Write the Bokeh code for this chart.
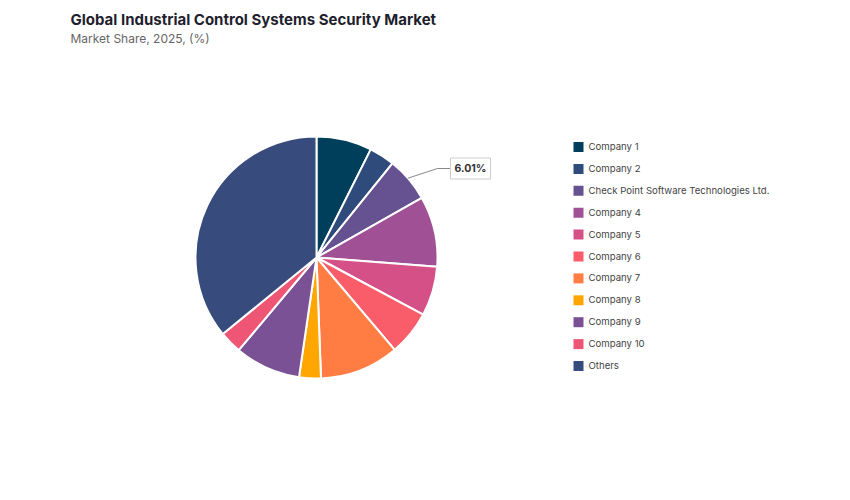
import numpy as np
from bokeh.plotting import figure
from bokeh.models import Range1d, ColumnDataSource, Label
from bokeh.core.properties import value
from bokeh.embed import file_html
from bokeh.resources import INLINE

title = "Global Industrial Control Systems Security Market"
subtitle = "Market Share, 2025, (%)"
companies = ["Company 1", "Company 2", "Check Point Software Technologies Ltd.", "Company 4",
             "Company 5", "Company 6", "Company 7", "Company 8", "Company 9", "Company 10", "Others"]
shares = [7.4, 3.4, 6.01, 9.4, 6.6, 6.0, 10.6, 2.9, 8.8, 3.0, 35.89]
colors = ["#003f5c", "#2f4b7c", "#665191", "#a05195", "#d45087", "#f95d6a",
          "#ff7c43", "#ffa600", "#7a5195", "#ef5675", "#374c7d"]
highlight = 2  # labelled slice

W, H = 850, 500
FONT = "Inter"

p = figure(width=W, height=H, output_backend="svg", toolbar_location=None,
           x_range=Range1d(0, W), y_range=Range1d(0, H), min_border=0)
p.axis.visible = False
p.grid.visible = False
p.outline_line_color = None
p.background_fill_color = "white"

cx, cy, r = 316, H - 257, 121
vals = np.array(shares, dtype=float)
frac = vals / vals.sum()
cum_end = np.cumsum(frac)
cum_start = cum_end - frac
start = np.pi / 2 - cum_start * 2 * np.pi
end = np.pi / 2 - cum_end * 2 * np.pi

src = ColumnDataSource(dict(start=start, end=end, color=colors, name=companies))
p.wedge(x=cx, y=cy, radius=r, start_angle="start", end_angle="end", direction="clock",
        fill_color="color", line_color="white", line_width=2, source=src)

# callout for highlighted slice
mid = (start[highlight] + end[highlight]) / 2
ex, ey = cx + r * np.cos(mid), cy + r * np.sin(mid)
kx, ky = 437, H - 168
p.line([ex - 1, kx, 452], [ey + 1, ky, ky], line_color="#888888", line_width=1)
lbl = Label(x=470, y=ky, text=f"{shares[highlight]:.2f}%", text_align="center",
            text_baseline="middle", text_font=FONT, text_font_size="10.5px",
            text_font_style="bold", text_color="#333333",
            border_line_color="#cccccc", border_line_width=1,
            background_fill_color="white", padding=4)
p.add_layout(lbl)

# legend
ly = [H - (146 + 21.9 * i) for i in range(len(companies))]
p.scatter(x=[578] * len(companies), y=[y - 0.5 for y in ly], marker="square", size=10,
          fill_color=colors, line_color=None)
p.text(x=[588] * len(companies), y=ly, text=companies, text_baseline="middle",
       text_font=value(FONT), text_font_size="9.6px", text_color="#444444")

p.add_layout(Label(x=70, y=H - 19, text=title, text_baseline="middle", text_font=FONT,
                   text_font_size="15px", text_font_style="bold", text_color="#1f1f2e"))
p.add_layout(Label(x=70, y=H - 38, text=subtitle, text_baseline="middle", text_font=FONT,
                   text_font_size="12px", text_color="#666666"))

open("out.html", "w").write(file_html(p, INLINE))
